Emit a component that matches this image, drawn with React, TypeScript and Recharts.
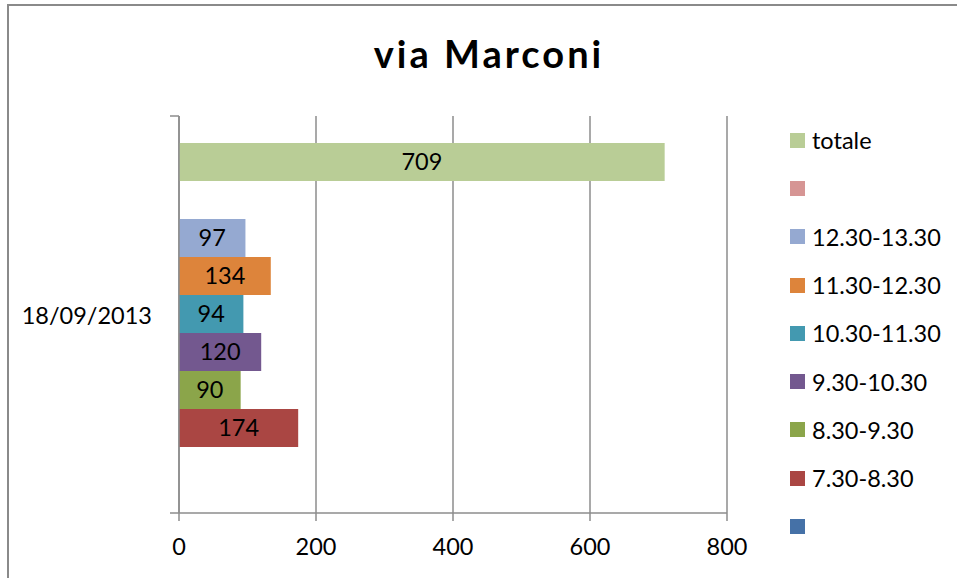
import React from "react";
import {
  BarChart,
  Bar,
  XAxis,
  YAxis,
  CartesianGrid,
  Legend,
  LabelList,
} from "recharts";

// Excel order: first series sits at the bottom of the band
const categories = ["18/09/2013"];
const seriesNames = ["", "7.30-8.30", "8.30-9.30", "9.30-10.30", "10.30-11.30", "11.30-12.30", "12.30-13.30", "", "totale"];
const seriesValues: (number | null)[] = [null, 174, 90, 120, 94, 134, 97, null, 709];
const seriesColors = ["#4571A7", "#AA4643", "#8BA54A", "#73588F", "#4399B0", "#DD843B", "#95A9D1", "#D69594", "#B9CD96"];
const xTicks = [0, 200, 400, 600, 800];

const FONT = "Lato, 'Noto Sans', sans-serif";
const AXIS_GRAY = "#8c8c8c";
const TICK_SIZE = 9;
const TICK_MARGIN = 18;

const data = categories.map((date) => {
  const row: Record<string, string | number | null> = { date };
  seriesValues.forEach((v, i) => {
    row[`s${i}`] = v;
  });
  return row;
});

// top-to-bottom drawing order (Recharts puts the first Bar at the top)
const drawOrder = seriesNames.map((_, i) => i).reverse();

function CategoryTick(props: any) {
  const { x, y, payload } = props;
  const half = payload?.offset ?? 0;
  const ax = x + TICK_MARGIN + TICK_SIZE;
  return (
    <g>
      <text
        x={x}
        y={y}
        textAnchor="end"
        dominantBaseline="central"
        fontSize={23.5}
        fontFamily={FONT}
        fill="#000"
      >
        {payload.value}
      </text>
      <line x1={ax - TICK_SIZE} x2={ax} y1={y - half} y2={y - half} stroke={AXIS_GRAY} strokeWidth={1.5} />
      <line x1={ax - TICK_SIZE} x2={ax} y1={y + half} y2={y + half} stroke={AXIS_GRAY} strokeWidth={1.5} />
    </g>
  );
}

function SideLegend() {
  return (
    <div style={{ width: 165, fontFamily: FONT }}>
      {drawOrder.map((i) => (
        <div key={i} style={{ height: 48.3, display: "flex", alignItems: "center" }}>
          <span
            style={{
              display: "inline-block",
              width: 15,
              height: 15,
              background: seriesColors[i],
              marginRight: 7,
            }}
          />
          <span style={{ fontSize: 23.5, color: "#000", whiteSpace: "nowrap" }}>{seriesNames[i]}</span>
        </div>
      ))}
    </div>
  );
}

export default function App() {
  return (
    <div style={{ position: "absolute", left: 0, top: 0, width: 957, height: 578, background: "#fff", overflow: "hidden" }}>
      <div
        style={{
          position: "absolute",
          left: 7,
          top: 4,
          width: 1000,
          height: 1000,
          border: "2px solid #8a8a8a",
        }}
      />
      <div
        style={{
          position: "absolute",
          left: 0,
          top: 28,
          width: 978,
          textAlign: "center",
          fontFamily: FONT,
          fontWeight: 700,
          fontSize: 38,
          letterSpacing: 3,
          lineHeight: "50px",
          color: "#000",
        }}
      >
        via Marconi
      </div>
      <div style={{ position: "absolute", left: 0, top: 0 }}>
        <BarChart
          width={957}
          height={578}
          data={data}
          layout="vertical"
          margin={{ top: 116, right: 230, bottom: 25, left: 9 }}
          barCategoryGap="6.8%"
          barGap={0}
        >
          <CartesianGrid horizontal={false} vertical stroke={AXIS_GRAY} strokeWidth={1.5} />
          <XAxis
            type="number"
            domain={[0, 800]}
            ticks={xTicks}
            interval={0}
            tickSize={8}
            tickMargin={17}
            axisLine={{ stroke: AXIS_GRAY, strokeWidth: 1.5 }}
            tickLine={{ stroke: AXIS_GRAY, strokeWidth: 1.5 }}
            tick={{ fontSize: 23.5, fill: "#000", fontFamily: FONT }}
            height={40}
          />
          <XAxis
            xAxisId="top"
            orientation="top"
            type="number"
            domain={[0, 800]}
            ticks={xTicks}
            tick={false}
            tickLine={false}
            axisLine={{ stroke: AXIS_GRAY, strokeWidth: 1.5 }}
            height={0}
          />
          <YAxis
            type="category"
            dataKey="date"
            width={170}
            tickSize={TICK_SIZE}
            tickMargin={TICK_MARGIN}
            tickLine={false}
            axisLine={{ stroke: AXIS_GRAY, strokeWidth: 1.5 }}
            tick={<CategoryTick />}
          />
          <Legend
            layout="horizontal"
            verticalAlign="middle"
            align="center"
            content={() => <SideLegend />}
            wrapperStyle={{ left: 790, top: 116, width: 165, height: 440 }}
          />
          {drawOrder.map((i) => (
            <Bar
              key={i}
              dataKey={`s${i}`}
              name={seriesNames[i] || `blank${i}`}
              fill={seriesColors[i]}
              isAnimationActive={false}
            >
              {seriesValues[i] !== null && (
                <LabelList
                  dataKey={`s${i}`}
                  position="center"
                  fill="#000"
                  fontSize={23.5}
                  fontFamily={FONT}
                />
              )}
            </Bar>
          ))}
        </BarChart>
      </div>
    </div>
  );
}
